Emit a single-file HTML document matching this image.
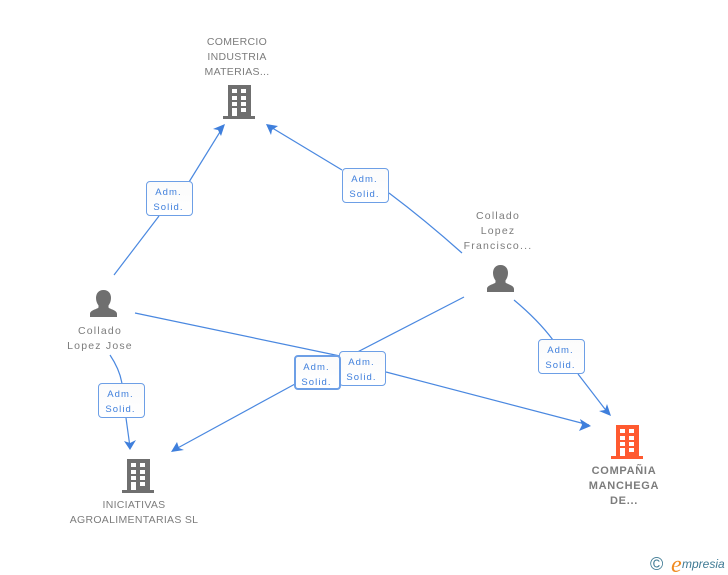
<!DOCTYPE html>
<html><head><meta charset="utf-8">
<style>
html,body{margin:0;padding:0;background:#fff}
#c{position:relative;width:728px;height:575px;overflow:hidden;background:#fff;font-family:"Liberation Sans",sans-serif}
svg{position:absolute;left:0;top:0}
.t{position:absolute;text-align:center;color:#7c7c7c;font-size:10.5px;line-height:15px;white-space:nowrap;transform:translateX(-50%)}
.b{position:absolute;box-sizing:border-box;width:47px;height:35px;border:1.5px solid #6d9fe6;border-radius:4px;background:linear-gradient(#fbfbfb,#fff);color:#3f7fdc;font-size:9.5px;line-height:15px;text-align:center;letter-spacing:1.1px;padding:3px 2px 0 0}
</style></head><body>
<div id="c">
<svg width="728" height="575" viewBox="0 0 728 575">
<defs>
<g id="bld"><path d="M5 0H28V31H32V34H0V31H5Z" fill="currentColor"/>
<g fill="#fff"><rect x="9" y="4" width="5" height="4"/><rect x="18" y="4" width="5" height="4"/><rect x="9" y="11" width="5" height="4"/><rect x="18" y="11" width="5" height="4"/><rect x="9" y="17" width="5" height="4"/><rect x="18" y="17" width="5" height="4"/><rect x="9" y="23" width="5" height="8"/><rect x="18" y="23" width="5" height="4"/></g></g>
<g id="psn"><path d="M13.500 0C18.500 0 21 3.500 21 8C21 11 20 13.500 18.500 15.500V17.500C20.500 19.500 27 20 27 24V27H0V24C0 20 6.500 19.500 8.500 17.500V15.500C7 13.500 6 11 6 8C6 3.500 8.500 0 13.500 0Z" fill="#6f6f6f"/></g>
</defs>
<g fill="none" stroke="#4a88e0" stroke-width="1.2">
<path d="M114 275L159 216"/><path d="M189 182L223 127"/>
<path d="M342 170L269 126"/><path d="M389 193Q425 220 462 253"/>
<path d="M135 313L340 356"/><path d="M386 372L589 425"/>
<path d="M464 297L342 360"/><path d="M295 384L174 450"/>
<path d="M514 300Q538 320 553 340"/><path d="M578 374L608 413"/>
<path d="M110 355Q120 370 122 384"/><path d="M126 418L130 447"/>
</g>
<g fill="#3f7fdc">
<path d="M225 124L221 136L218 130L213 129Z"/>
<path d="M266 124L278 126L272 130L271 135Z"/>
<path d="M591 426L579 431L582 425L580 419Z"/>
<path d="M611 416L599 411L605 410L607 404Z"/>
<path d="M171 452L177 442L179 448L184 450Z"/>
<path d="M130 450L124 441L130 443L136 440Z"/>
</g>
<use href="#bld" x="223" y="85" color="#6f6f6f"/>
<use href="#bld" x="122" y="459" color="#6f6f6f"/>
<use href="#bld" x="611" y="425" color="#ff5a30"/>
<use href="#psn" x="90" y="290"/>
<use href="#psn" x="487" y="265"/>
<text x="650" y="570" font-family="Liberation Sans" font-size="18" fill="#3f7a94">©</text>
<text x="671" y="572" font-family="Liberation Serif" font-size="24" font-style="italic" fill="#f08a20">e</text>
<text x="682" y="568" font-family="Liberation Sans" font-size="12" font-style="italic" fill="#3f7a94">mpresia</text>
</svg>
<div class="t" style="left:237px;top:35px;letter-spacing:.3px">COMERCIO<br>INDUSTRIA<br>MATERIAS...</div>
<div class="t" style="left:498px;top:209px;letter-spacing:1.2px">Collado<br>Lopez<br>Francisco...</div>
<div class="t" style="left:100px;top:324px;letter-spacing:1.2px">Collado<br>Lopez Jose</div>
<div class="t" style="left:134px;top:498px;letter-spacing:.3px">INICIATIVAS<br>AGROALIMENTARIAS SL</div>
<div class="t" style="left:624px;top:464px;font-weight:bold;font-size:11px;letter-spacing:.7px">COMPAÑIA<br>MANCHEGA<br>DE...</div>
<div class="b" style="left:146px;top:181px">Adm.<br>Solid.</div>
<div class="b" style="left:342px;top:168px">Adm.<br>Solid.</div>
<div class="b" style="left:339px;top:351px">Adm.<br>Solid.</div>
<div class="b" style="left:294px;top:355px;border-width:2px">Adm.<br>Solid.</div>
<div class="b" style="left:538px;top:339px">Adm.<br>Solid.</div>
<div class="b" style="left:98px;top:383px">Adm.<br>Solid.</div>
</div>
</body></html>
